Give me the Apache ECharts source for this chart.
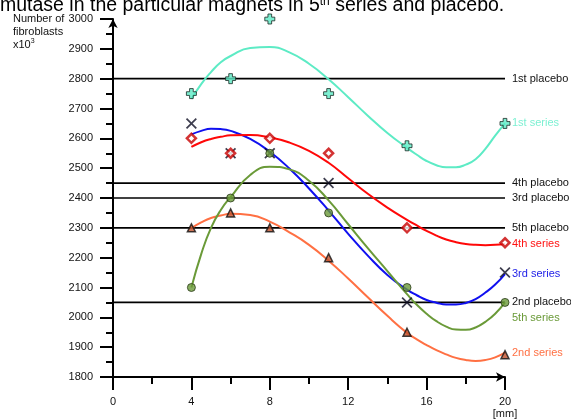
<!DOCTYPE html>
<html>
<head>
<meta charset="utf-8">
<script src="https://cdn.jsdelivr.net/npm/echarts@6/dist/echarts.min.js"></script>
<style>html,body{margin:0;padding:0;background:#fff;}#c{width:571px;height:420px;}</style>
</head>
<body>
<div id="c"></div>
<script>
// ---- data ----
const xPoints = [4, 6, 8, 11, 15, 20];
const series1 = [2750, 2800, 3000, 2750, 2575, 2650];
const series2 = [2300, 2350, 2300, 2200, 1950, 1875];
const series3 = [2650, 2550, 2550, 2450, 2050, 2150];
const series4 = [2600, 2550, 2600, 2550, 2300, 2250];
const series5 = [2100, 2400, 2550, 2350, 2100, 2050];

const curveX = [4, 4.5, 5, 5.5, 6, 7, 8, 9, 10, 11, 12, 13, 14, 15, 15.5, 16, 16.5, 17, 17.5, 18, 18.5, 19, 19.5, 20];
const curve1 = [2732, 2782, 2822, 2855, 2876, 2903, 2906, 2888, 2850, 2798, 2738, 2676, 2618, 2568, 2545, 2524, 2510, 2503, 2503, 2512, 2530, 2565, 2609, 2650];
const curve2 = [2299, 2318, 2333, 2341, 2347, 2343, 2321, 2285, 2243, 2190, 2130, 2067, 2005, 1948, 1926, 1907, 1890, 1876, 1864, 1857, 1854, 1857, 1866, 1882];
const curve3 = [2613, 2625, 2632, 2631, 2625, 2598, 2555, 2499, 2432, 2358, 2280, 2207, 2142, 2093, 2074, 2058, 2049, 2043, 2043, 2048, 2061, 2083, 2110, 2145];
const curve4 = [2571, 2587, 2598, 2605, 2610, 2611, 2603, 2586, 2558, 2518, 2466, 2414, 2368, 2327, 2308, 2290, 2274, 2261, 2252, 2246, 2243, 2242, 2243, 2246];
const curve5 = [2100, 2212, 2300, 2360, 2403, 2477, 2505, 2496, 2458, 2392, 2312, 2232, 2155, 2078, 2042, 2012, 1987, 1969, 1959, 1958, 1966, 1985, 2012, 2050];

const seriesNames = ['1st series', '2nd series', '3rd series', '4th series', '5th series'];
const placeboNames = ['1st placebo', '2nd placebo', '3rd placebo', '4th placebo', '5th placebo'];
const placeboValues = [2800, 2050, 2400, 2450, 2300];
const placeboRange = [0, 20];

const xTicks = { min: 0, max: 20, interval: 4 };
const yTicks = { min: 1800, max: 3000, interval: 100 };

// ---- styles ----
const FONT = 'Liberation Sans, Arial, sans-serif';
const colors = ['#5DEBC5', '#FF7043', '#1010F0', '#FF0808', '#6A9A38'];
const labelColors = ['#7CF0D2', '#FF7043', '#2222E8', '#FF1010', '#6A9A38'];
const labelOffsets = [[0, 0], [0, 0], [0, 0], [0, 0], [0, 16]];

const curves = [curve1, curve2, curve3, curve4, curve5];
const marks = [series1, series2, series3, series4, series5];

const plusPath = 'path://M-1.1,-3 H1.1 V-1.1 H3 V1.1 H1.1 V3 H-1.1 V1.1 H-3 V-1.1 H-1.1 Z';
const xPath = 'path://M0,1.1 L1.1,0 L5,3.9 L8.9,0 L10,1.1 L6.1,5 L10,8.9 L8.9,10 L5,6.1 L1.1,10 L0,8.9 L3.9,5 Z';
const markerStyles = [
  { symbol: plusPath, symbolSize: 10, itemStyle: { color: '#5DEBC5', borderColor: '#1a2a24', borderWidth: 1 } },
  { symbol: 'triangle', symbolSize: 8, itemStyle: { color: '#C0502A', borderColor: '#111', borderWidth: 1.5 } },
  { symbol: xPath, symbolSize: 11, itemStyle: { color: '#0c0c22' } },
  { symbol: 'diamond', symbolSize: 9, itemStyle: { color: '#ffffff', borderColor: '#C80000', borderWidth: 2.5 } },
  { symbol: 'circle', symbolSize: 8, itemStyle: { color: '#6A9A38', borderColor: '#2a3a1a', borderWidth: 1 } }
];

const series = [];
placeboNames.forEach((name, i) => {
  series.push({
    name: name, type: 'line', silent: true, symbol: 'none', z: 2,
    data: placeboRange.map(x => [x, placeboValues[i]]),
    lineStyle: { color: '#000', width: 1.7 },
    endLabel: { show: true, formatter: name, color: '#111', fontSize: 11, fontFamily: FONT, distance: 7 }
  });
});
curves.forEach((c, i) => {
  series.push({
    name: seriesNames[i], type: 'line', silent: true, symbol: 'none', smooth: 0.5, z: 3,
    data: curveX.map((x, k) => [x, c[k]]),
    lineStyle: { color: colors[i], width: 2 },
    endLabel: { show: true, formatter: seriesNames[i], color: labelColors[i], fontSize: 11, fontFamily: FONT, distance: 7, offset: labelOffsets[i] }
  });
});
marks.forEach((m, i) => {
  series.push(Object.assign({
    name: seriesNames[i] + ' points', type: 'scatter', silent: true, clip: false, z: 5 + i,
    data: xPoints.map((x, k) => [x, m[k]])
  }, markerStyles[i]));
});

const chart = echarts.init(document.getElementById('c'), null, { renderer: 'canvas' });
chart.setOption({
  animation: false,
  backgroundColor: '#fff',
  title: {
    text: 'mutase in the particular magnets in 5{sup|th} series and placebo.',
    left: -5, top: -9,
    textStyle: {
      fontSize: 19.5, fontWeight: 'normal', color: '#000', fontFamily: FONT,
      rich: { sup: { fontSize: 12, verticalAlign: 'top', color: '#000', fontFamily: FONT } }
    }
  },
  graphic: [{
    type: 'text', left: 13, top: 12,
    style: {
      text: 'Number of\nfibroblasts\nx10{s|3}',
      font: '11px ' + FONT, fill: '#111', lineHeight: 13,
      rich: { s: { fontSize: 7, verticalAlign: 'top', fill: '#111' } }
    }
  }],
  grid: { left: 113, right: 66, top: 19, bottom: 41, containLabel: false },
  xAxis: {
    type: 'value', min: xTicks.min, max: xTicks.max, interval: xTicks.interval,
    axisLine: { show: true, onZero: false, symbol: ['none', 'arrow'], symbolSize: [7, 9], lineStyle: { color: '#000', width: 2 } },
    axisTick: { show: true, length: 13, lineStyle: { color: '#000', width: 2 } },
    minorTick: { show: true, splitNumber: 2, length: 7, lineStyle: { color: '#000', width: 2 } },
    splitLine: { show: false },
    axisLabel: {
      margin: 19, color: '#111', fontSize: 11, fontFamily: FONT, lineHeight: 12,
      formatter: v => v === xTicks.max ? v + '\n[mm]' : String(v)
    }
  },
  yAxis: {
    type: 'value', min: yTicks.min, max: yTicks.max, interval: yTicks.interval,
    axisLine: { show: true, onZero: false, symbol: ['none', 'arrow'], symbolSize: [7, 9], lineStyle: { color: '#000', width: 2 } },
    axisTick: { show: true, length: 13, lineStyle: { color: '#000', width: 2 } },
    minorTick: { show: true, splitNumber: 2, length: 7, lineStyle: { color: '#000', width: 2 } },
    splitLine: { show: false },
    axisLabel: { margin: 20, color: '#111', fontSize: 11, fontFamily: FONT, formatter: v => String(v) }
  },
  series: series
});
</script>
</body>
</html>
